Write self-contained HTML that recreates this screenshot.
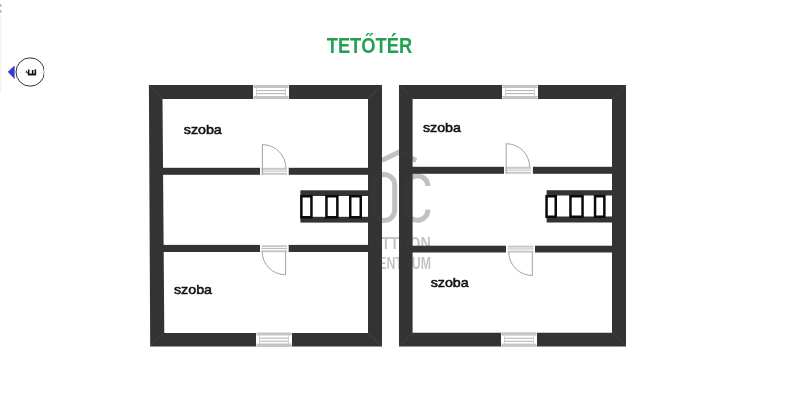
<!DOCTYPE html>
<html><head><meta charset="utf-8">
<style>
html,body{margin:0;padding:0;background:#fff;width:800px;height:418px;overflow:hidden}
svg{display:block;will-change:transform}
text{font-family:"Liberation Sans",sans-serif}
</style></head><body>
<svg width="800" height="418" viewBox="0 0 800 418">
<rect width="800" height="418" fill="#fff"/>
<!-- faint left-edge marks -->
<rect x="0" y="15" width="1.5" height="78" fill="#f3f3f3"/>
<rect x="0" y="4" width="1.5" height="3" fill="#bbb"/>
<rect x="0" y="10" width="1.5" height="3" fill="#bbb"/>

<!-- title -->
<text x="326.7" y="53.2" font-size="21.4" font-weight="bold" fill="#22a052" textLength="85.5" lengthAdjust="spacingAndGlyphs">TETŐTÉR</text>

<!-- compass -->
<g>
  <line x1="16" y1="72.4" x2="45" y2="72.4" stroke="#e6e6e6" stroke-width="0.8" stroke-dasharray="2 2"/>
  <line x1="30.4" y1="58" x2="30.4" y2="87" stroke="#e6e6e6" stroke-width="0.8" stroke-dasharray="2 2"/>
  <clipPath id="cc"><rect x="0" y="40" width="44.2" height="60"/></clipPath>
  <circle cx="30.2" cy="72" r="14.2" fill="none" stroke="#333" stroke-width="1" clip-path="url(#cc)"/>
  <polygon points="7.8,71.8 14.6,65.6 14.6,79" fill="#3838d0"/>
  <text x="0" y="0" font-size="10.4" font-weight="bold" fill="#111" stroke="#111" stroke-width="0.25" text-anchor="middle" transform="translate(35.9,72.5) rotate(-90)">É</text>
</g>

<!-- LEFT PLAN -->
<g fill="#333">
  <path fill-rule="evenodd" d="M148.9,85 L382,85 L382,346.5 L150.2,346.5 Z M162.5,99 L368,99 L368,333 L164.3,333 Z"/>
  <rect x="162" y="167.8" width="98" height="7"/>
  <rect x="288.5" y="167.8" width="80" height="7"/>
  <rect x="162.5" y="244.9" width="97.5" height="7.1"/>
  <rect x="288.4" y="244.9" width="80" height="7.1"/>
  <rect x="300.4" y="190.3" width="68" height="5.7"/>
  <rect x="300.4" y="216.8" width="68" height="5.8"/>
</g>
<g transform="translate(253,85)">
    <!-- window 36 x 14 -->
    <rect x="0" y="0" width="36" height="14" fill="#fff"/>
    <rect x="0.5" y="0" width="35" height="3" fill="#c4c4c4"/>
    <rect x="0.5" y="11" width="35" height="3" fill="#c4c4c4"/>
    <rect x="3" y="5.2" width="30" height="0.9" fill="#aaa"/>
    <rect x="3" y="8.2" width="30" height="0.9" fill="#aaa"/>
    <rect x="3" y="3" width="0.8" height="8" fill="#ccc"/>
    <rect x="32.2" y="3" width="0.8" height="8" fill="#ccc"/>
  </g>
<g transform="translate(256,332.5)">
    <!-- window 36 x 14 -->
    <rect x="0" y="0" width="36" height="14" fill="#fff"/>
    <rect x="0.5" y="0" width="35" height="3" fill="#c4c4c4"/>
    <rect x="0.5" y="11" width="35" height="3" fill="#c4c4c4"/>
    <rect x="3" y="5.2" width="30" height="0.9" fill="#aaa"/>
    <rect x="3" y="8.2" width="30" height="0.9" fill="#aaa"/>
    <rect x="3" y="3" width="0.8" height="8" fill="#ccc"/>
    <rect x="32.2" y="3" width="0.8" height="8" fill="#ccc"/>
  </g>
<g transform="translate(260,167.8)">
    <!-- door frame 28.5 x 7 -->
    <rect x="0" y="0" width="28.5" height="7" fill="#fff"/>
    <rect x="1.5" y="0" width="25.5" height="2" fill="#c8c8c8"/>
    <rect x="1.5" y="5" width="25.5" height="2" fill="#c8c8c8"/>
    <rect x="1.5" y="2.8" width="25.5" height="1" fill="#bbb"/>
  </g>
<g transform="translate(260,245.2)">
    <!-- door frame 28.5 x 7 -->
    <rect x="0" y="0" width="28.5" height="7" fill="#fff"/>
    <rect x="1.5" y="0" width="25.5" height="2" fill="#c8c8c8"/>
    <rect x="1.5" y="5" width="25.5" height="2" fill="#c8c8c8"/>
    <rect x="1.5" y="2.8" width="25.5" height="1" fill="#bbb"/>
  </g>
<path fill="#0a0a0a" fill-rule="evenodd" d="M300.1,195.1 H312.7 V218.4 H300.1 Z M302.6,197.6 V215.9 H310.2 V197.6 Z M325.2,195.1 H338.6 V218.4 H325.2 Z M327.7,197.6 V215.9 H336.1 V197.6 Z M349,195.1 H362 V218.4 H349 Z M351.5,197.6 V215.9 H359.5 V197.6 Z "/>
<g fill="none" stroke="#999" stroke-width="0.9">
  <path d="M262.4,174.5 V144.6 A23.5,23.5 0 0 1 285.9,168"/>
  <path d="M285.6,251.5 V274.8 A23.6,23.6 0 0 1 262,251.2"/>
</g>

<!-- RIGHT PLAN -->
<g fill="#333">
  <path fill-rule="evenodd" d="M399,85 L626,85 L626,346.6 L399,346.6 Z M412.6,99 L612,99 L612,332.8 L412.6,332.8 Z"/>
  <rect x="412" y="166.8" width="92" height="7"/>
  <rect x="532.8" y="166.8" width="80" height="7"/>
  <rect x="412" y="245.7" width="94" height="6.8"/>
  <rect x="535" y="245.7" width="78" height="6.8"/>
  <rect x="546.6" y="190.2" width="66" height="5.3"/>
  <rect x="546.6" y="216.5" width="66" height="6"/>
</g>
<g transform="translate(502,85)">
    <!-- window 36 x 14 -->
    <rect x="0" y="0" width="36" height="14" fill="#fff"/>
    <rect x="0.5" y="0" width="35" height="3" fill="#c4c4c4"/>
    <rect x="0.5" y="11" width="35" height="3" fill="#c4c4c4"/>
    <rect x="3" y="5.2" width="30" height="0.9" fill="#aaa"/>
    <rect x="3" y="8.2" width="30" height="0.9" fill="#aaa"/>
    <rect x="3" y="3" width="0.8" height="8" fill="#ccc"/>
    <rect x="32.2" y="3" width="0.8" height="8" fill="#ccc"/>
  </g>
<g transform="translate(501,332.6)">
    <!-- window 36 x 14 -->
    <rect x="0" y="0" width="36" height="14" fill="#fff"/>
    <rect x="0.5" y="0" width="35" height="3" fill="#c4c4c4"/>
    <rect x="0.5" y="11" width="35" height="3" fill="#c4c4c4"/>
    <rect x="3" y="5.2" width="30" height="0.9" fill="#aaa"/>
    <rect x="3" y="8.2" width="30" height="0.9" fill="#aaa"/>
    <rect x="3" y="3" width="0.8" height="8" fill="#ccc"/>
    <rect x="32.2" y="3" width="0.8" height="8" fill="#ccc"/>
  </g>
<g transform="translate(504,166.8)">
    <!-- door frame 28.5 x 7 -->
    <rect x="0" y="0" width="28.5" height="7" fill="#fff"/>
    <rect x="1.5" y="0" width="25.5" height="2" fill="#c8c8c8"/>
    <rect x="1.5" y="5" width="25.5" height="2" fill="#c8c8c8"/>
    <rect x="1.5" y="2.8" width="25.5" height="1" fill="#bbb"/>
  </g>
<g transform="translate(506.3,245.6)">
    <!-- door frame 28.5 x 7 -->
    <rect x="0" y="0" width="28.5" height="7" fill="#fff"/>
    <rect x="1.5" y="0" width="25.5" height="2" fill="#c8c8c8"/>
    <rect x="1.5" y="5" width="25.5" height="2" fill="#c8c8c8"/>
    <rect x="1.5" y="2.8" width="25.5" height="1" fill="#bbb"/>
  </g>
<path fill="#0a0a0a" fill-rule="evenodd" d="M545.3,195.1 H557 V217.9 H545.3 Z M547.8,197.6 V215.4 H554.5 V197.6 Z M569.2,195.1 H583.8 V217.9 H569.2 Z M571.7,197.6 V215.4 H581.3 V197.6 Z M593.8,195.1 H605.6 V217.9 H593.8 Z M596.3,197.6 V215.4 H603.1 V197.6 Z "/>
<g fill="none" stroke="#999" stroke-width="0.9">
  <path d="M506.2,173.5 V143.7 A23.5,23.5 0 0 1 529.7,167"/>
  <path d="M532.3,252 V275.5 A23.6,23.6 0 0 1 508.7,252"/>
</g>

<g stroke="#484848" stroke-width="0.7" fill="none">
  <path d="M149.5,85.5 L162.5,99 M381.5,85.5 L368,99 M150.5,346 L164.3,333 M381.5,346 L368,333"/>
  <path d="M399.5,85.5 L412.6,99 M625.5,85.5 L612,99 M399.5,346 L412.6,332.8 M625.5,346 L612,332.8"/>
</g>
<!-- watermark -->
<g fill="none" stroke="#3d3d3d" stroke-opacity="0.32" stroke-width="4.6">
  <polyline points="381.8,160.5 399,152.1 416.2,160.5" stroke-width="5"/>
  <rect x="373.7" y="174.5" width="21" height="46" rx="10.5" ry="10.5" stroke-width="5"/>
  <path stroke-width="5" d="M427.9,186 A10.5,10.5 0 0 0 406.9,186.5 V210 A10.5,10.5 0 0 0 427.9,209.5"/>
</g>
<g fill="#3d3d3d" fill-opacity="0.31">
  <text x="370.3" y="249" font-size="17.3" font-weight="bold" textLength="60.5" lengthAdjust="spacingAndGlyphs">OTTHON</text>
  <text x="369.3" y="268.9" font-size="16.8" font-weight="bold" textLength="61.7" lengthAdjust="spacingAndGlyphs">CENTRUM</text>
</g>
<!-- labels -->
<g font-size="13.6" fill="#111" stroke="#111" stroke-width="0.55">
  <text x="183.8" y="133.8" textLength="38" lengthAdjust="spacingAndGlyphs">szoba</text>
  <text x="174" y="293.8" textLength="38" lengthAdjust="spacingAndGlyphs">szoba</text>
  <text x="422.9" y="131.7" textLength="38" lengthAdjust="spacingAndGlyphs">szoba</text>
  <text x="430.7" y="286.8" textLength="38" lengthAdjust="spacingAndGlyphs">szoba</text>
</g>
</svg>
</body></html>
